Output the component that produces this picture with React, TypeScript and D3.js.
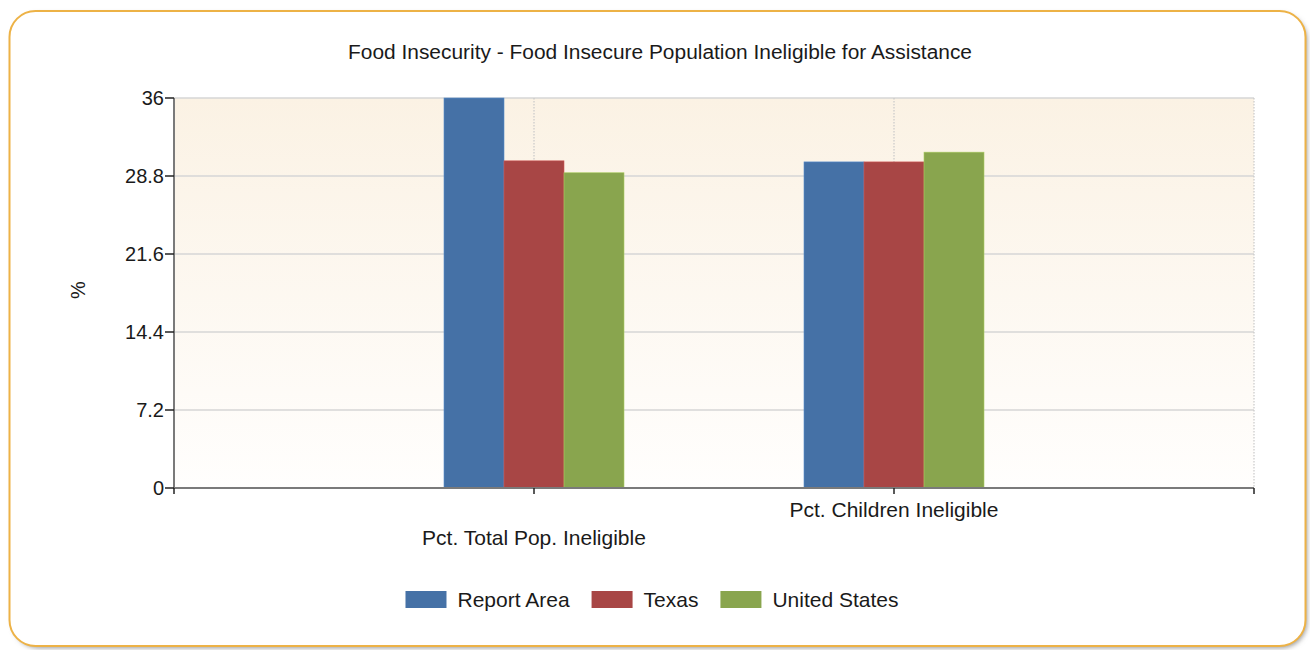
import React, { useEffect, useRef } from "react";
import * as d3 from "d3";

const title = "Food Insecurity - Food Insecure Population Ineligible for Assistance";
const categories = ["Pct. Total Pop. Ineligible", "Pct. Children Ineligible"];
const seriesNames = ["Report Area", "Texas", "United States"];
const seriesColors = ["#4571A6", "#A84645", "#89A54E"];
const reportArea = [36.0, 30.1];
const texas = [30.2, 30.1];
const unitedStates = [29.1, 31.0];
const yTicks = [0, 7.2, 14.4, 21.6, 28.8, 36];
const yLabel = "%";

const W = 1310;
const H = 650;
const FONT = "'Liberation Sans', Arial, sans-serif";

export default function App() {
  const ref = useRef<SVGSVGElement | null>(null);

  useEffect(() => {
    const svg = d3.select(ref.current);
    svg.selectAll("*").remove();

    const defs = svg.append("defs");
    const grad = defs.append("linearGradient").attr("id", "plotbg").attr("x1", 0).attr("y1", 0).attr("x2", 0).attr("y2", 1);
    grad.append("stop").attr("offset", "0%").attr("stop-color", "#FBF2E4");
    grad.append("stop").attr("offset", "100%").attr("stop-color", "#FFFEFD");
    const blur = defs.append("filter").attr("id", "shadow").attr("x", "-5%").attr("y", "-5%").attr("width", "110%").attr("height", "110%");
    blur.append("feGaussianBlur").attr("stdDeviation", 2.5);

    // frame
    svg.append("rect").attr("x", 13).attr("y", 14).attr("width", 1294).attr("height", 634).attr("rx", 26)
      .attr("fill", "#9a9a9a").attr("filter", "url(#shadow)");
    svg.append("rect").attr("x", 9.5).attr("y", 11).attr("width", 1296).attr("height", 635).attr("rx", 26)
      .attr("fill", "#ffffff").attr("stroke", "#EDB246").attr("stroke-width", 2);

    const left = 174, right = 1254, top = 98, bottom = 488;
    const x = d3.scaleLinear().domain([0, categories.length + 1]).range([left, right]);
    const y = d3.scaleLinear().domain([0, 36]).range([bottom, top]);

    // title
    svg.append("text").attr("x", 660).attr("y", 59).attr("text-anchor", "middle")
      .attr("font-family", FONT).attr("font-size", 20).attr("fill", "#1a1a1a")
      .attr("textLength", 624).attr("lengthAdjust", "spacingAndGlyphs").text(title);

    // plot background
    svg.append("rect").attr("x", left).attr("y", top).attr("width", right - left).attr("height", bottom - top)
      .attr("fill", "url(#plotbg)");

    // horizontal gridlines
    svg.append("g").selectAll("line").data(yTicks.filter((t) => t > 0)).join("line")
      .attr("x1", left).attr("x2", right).attr("y1", (d) => y(d)).attr("y2", (d) => y(d))
      .attr("stroke", "#D6D6D6").attr("stroke-width", 1.5);

    // vertical dotted gridlines
    const vlines = d3.range(1, categories.length + 2);
    svg.append("g").selectAll("line").data(vlines).join("line")
      .attr("x1", (d) => x(d)).attr("x2", (d) => x(d)).attr("y1", top).attr("y2", bottom)
      .attr("stroke", "#C8C8C8").attr("stroke-width", 1.2).attr("stroke-dasharray", "1.5,1.5");

    // bars
    const series = [reportArea, texas, unitedStates];
    const groupW = 180;
    const xb = d3.scaleBand().domain(seriesNames).range([-groupW / 2, groupW / 2]).padding(0);
    series.forEach((vals, si) => {
      svg.append("g").selectAll("rect").data(vals).join("rect")
        .attr("x", (_, i) => x(i + 1) + (xb(seriesNames[si]) as number))
        .attr("y", (d) => y(Math.min(d, 36)))
        .attr("width", xb.bandwidth())
        .attr("height", (d) => y(0) - y(Math.min(d, 36)))
        .attr("fill", seriesColors[si])
        .attr("stroke", d3.color(seriesColors[si])!.brighter(0.6).formatHex())
        .attr("stroke-width", 0.6);
    });

    // axes
    svg.append("line").attr("x1", left).attr("x2", left).attr("y1", top).attr("y2", bottom + 1)
      .attr("stroke", "#7a7a7a").attr("stroke-width", 2);
    svg.append("line").attr("x1", left - 1).attr("x2", right).attr("y1", bottom).attr("y2", bottom)
      .attr("stroke", "#7a7a7a").attr("stroke-width", 2);

    // y ticks
    const yt = svg.append("g");
    yt.selectAll("line").data(yTicks).join("line")
      .attr("x1", left - 9).attr("x2", left).attr("y1", (d) => y(d)).attr("y2", (d) => y(d))
      .attr("stroke", "#222").attr("stroke-width", 1.5);
    yt.selectAll("text").data(yTicks).join("text")
      .attr("x", left - 10).attr("y", (d) => y(d) + 7).attr("text-anchor", "end")
      .attr("font-family", FONT).attr("font-size", 20).attr("fill", "#1a1a1a")
      .text((d) => d3.format("~g")(d));

    // x ticks
    svg.append("g").selectAll("line").data([0, ...vlines]).join("line")
      .attr("x1", (d) => x(d)).attr("x2", (d) => x(d)).attr("y1", bottom).attr("y2", bottom + 6)
      .attr("stroke", "#222").attr("stroke-width", 1.5);

    // category labels (staggered)
    svg.append("g").selectAll("text").data(categories).join("text")
      .attr("x", (_, i) => x(i + 1)).attr("y", (_, i) => (i % 2 === 0 ? 545 : 517))
      .attr("text-anchor", "middle").attr("font-family", FONT).attr("font-size", 21).attr("fill", "#1a1a1a")
      .text((d) => d);

    // y label
    svg.append("text").attr("transform", `translate(85,290) rotate(-90)`).attr("text-anchor", "middle")
      .attr("font-family", FONT).attr("font-size", 20).attr("fill", "#1a1a1a").text(yLabel);

    // legend
    const lg = svg.append("g");
    const items = lg.selectAll("g").data(seriesNames).join("g");
    items.append("rect").attr("width", 41).attr("height", 17).attr("y", -16)
      .attr("fill", (_, i) => seriesColors[i]);
    items.append("text").attr("x", 52).attr("y", 0).attr("font-family", FONT).attr("font-size", 21)
      .attr("fill", "#1a1a1a").text((d) => d);
    let cx = 0;
    const widths: number[] = [];
    items.each(function () {
      const t = d3.select(this).select("text").node() as SVGTextElement;
      widths.push(52 + t.getComputedTextLength());
    });
    const gap = 22;
    const total = d3.sum(widths) + gap * (widths.length - 1);
    const startX = 652 - total / 2;
    items.attr("transform", (_, i) => {
      const tx = startX + cx;
      cx += widths[i] + gap;
      return `translate(${tx},607)`;
    });
  }, []);

  return (
    <div style={{ position: "absolute", left: 0, top: 0 }}>
      <svg ref={ref} width={W} height={H} style={{ display: "block" }} />
    </div>
  );
}
